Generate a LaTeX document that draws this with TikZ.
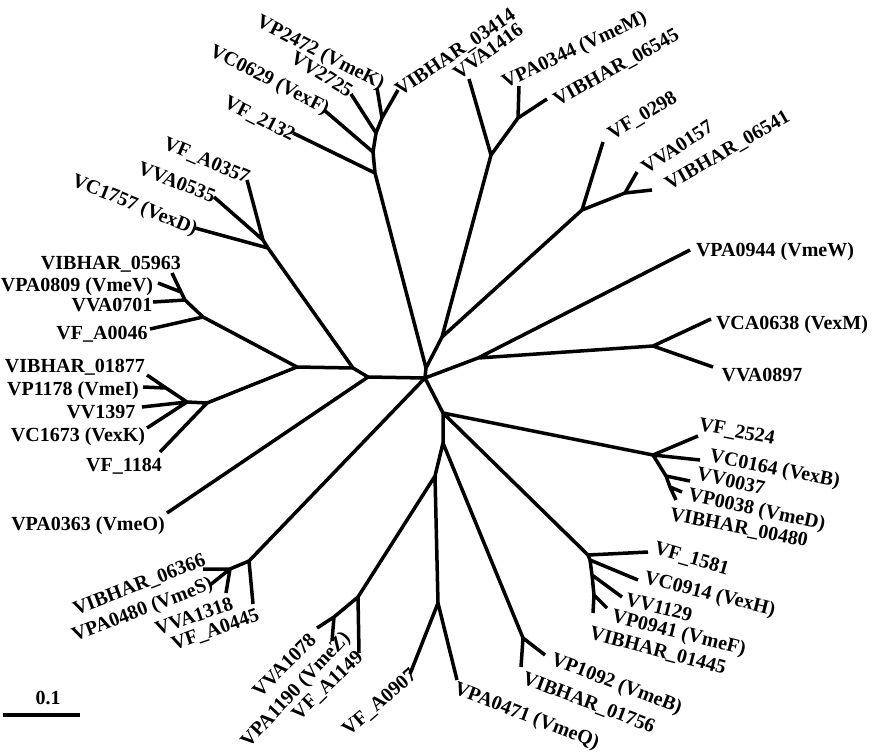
\documentclass[tikz,border=0pt]{standalone}
\usepackage{fontspec}
\setmainfont{Liberation Serif}
\begin{document}
\begin{tikzpicture}[x=1pt,y=-1pt,
  br/.style={line width=3.5pt,line join=round},
  lab/.style={font=\fontsize{20}{20}\selectfont\bfseries,inner sep=0pt,text height=13.2pt,text depth=0pt,anchor=center}]
\useasboundingbox (0,0) rectangle (872,753);
% internal nodes
\coordinate (O) at (425,378);
\coordinate (A) at (368,377);
\coordinate (B) at (353,368);
\coordinate (C) at (297,367);
\coordinate (D) at (268,248);
\coordinate (D1) at (263,240);
\coordinate (E) at (203,317);
\coordinate (E2) at (185,300);
\coordinate (E3) at (181,292);
\coordinate (F) at (207,403);
\coordinate (F2) at (187,402);
\coordinate (F3) at (166,388);
\coordinate (M) at (249,561);
\coordinate (M2) at (230,569);
\coordinate (N1) at (426,368);
\coordinate (G0) at (375,173);
\coordinate (G1) at (373,152);
\coordinate (G2) at (376,133);
\coordinate (G3) at (382,118);
\coordinate (J) at (442,337);
\coordinate (H) at (491,155);
\coordinate (H2) at (518,118);
\coordinate (K) at (582,210);
\coordinate (K2) at (625,193);
\coordinate (V) at (478,358);
\coordinate (W) at (653,346);
\coordinate (P) at (443,413);
\coordinate (X1) at (653,455);
\coordinate (X1a) at (666,476);
\coordinate (X1b) at (670,487);
\coordinate (X2) at (588,555);
\coordinate (X2a) at (590,560);
\coordinate (X2b) at (592,575);
\coordinate (X2c) at (594,595);
\coordinate (Q) at (443,443);
\coordinate (R) at (435,476);
\coordinate (S) at (358,597);
\coordinate (S2) at (334,617);
\coordinate (T) at (438,603);
\coordinate (U) at (523,638);
% leaves
\coordinate (l1) at (167,513);  % VPA0363
\coordinate (l2) at (195,228);  % VC1757
\coordinate (l3) at (247,180);  % VF_A0357
\coordinate (l4) at (214,197);  % VVA0535
\coordinate (l5) at (150,329);  % VF_A0046
\coordinate (l6) at (153,302);  % VVA0701
\coordinate (l7) at (158,283);  % VPA0809
\coordinate (l8) at (172,273);  % VIBHAR_05963
\coordinate (l9) at (160,452);  % VF_1184
\coordinate (l10) at (142,407); % VV1397
\coordinate (l11) at (147,428); % VC1673
\coordinate (l12) at (147,375); % VIBHAR_01877
\coordinate (l13) at (143,387); % VP1178
\coordinate (l14) at (253,604); % VF_A0445
\coordinate (l15) at (203,569); % VIBHAR_06366
\coordinate (l16) at (210,585); % VPA0480
\coordinate (l17) at (226,593); % VVA1318
\coordinate (l18) at (293,133); % VF_2132
\coordinate (l19) at (324,110); % VC0629
\coordinate (l20) at (351,94);  % VV2725
\coordinate (l21) at (377,88);  % VP2472
\coordinate (l22) at (398,90);  % VIBHAR_03414
\coordinate (l23) at (469,79);  % VVA1416
\coordinate (l24) at (519,86);  % VPA0344
\coordinate (l25) at (547,99);  % VIBHAR_06545
\coordinate (l26) at (603,142); % VF_0298
\coordinate (l27) at (637,172); % VVA0157
\coordinate (l28) at (652,190); % VIBHAR_06541
\coordinate (l29) at (690,250); % VPA0944
\coordinate (l30) at (711,319); % VCA0638
\coordinate (l31) at (713,367); % VVA0897
\coordinate (l32) at (698,436); % VF_2524
\coordinate (l33) at (700,460); % VC0164
\coordinate (l34) at (690,481); % VV0037
\coordinate (l35) at (682,492); % VP0038
\coordinate (l36) at (676,500); % VIBHAR_00480
\coordinate (l37) at (648,552); % VF_1581
\coordinate (l38) at (638,580); % VC0914
\coordinate (l39) at (622,597); % VV1129
\coordinate (l40) at (607,608); % VP0941
\coordinate (l41) at (593,613); % VIBHAR_01445
\coordinate (l42) at (359,653); % VF_A1149
\coordinate (l43) at (317,628); % VVA1078
\coordinate (l44) at (332,641); % VPA1190
\coordinate (l45) at (410,674); % VF_A0907
\coordinate (l46) at (457,680); % VPA0471
\coordinate (l47) at (521,667); % VIBHAR_01756
\coordinate (l48) at (545,655); % VP1092
% branches
\draw[br] (O)--(A) (O)--(N1) (O)--(V) (O)--(P) (O)--(M);
\draw[br] (A)--(B) (A)--(l1);
\draw[br] (B)--(C) (B)--(D);
\draw[br] (D)--(D1) (D)--(l2) (D1)--(l3) (D1)--(l4);
\draw[br] (C)--(E) (C)--(F);
\draw[br] (E)--(E2) (E)--(l5) (E2)--(E3) (E2)--(l6) (E3)--(l7) (E3)--(l8);
\draw[br] (F)--(F2) (F)--(l9) (F2)--(F3) (F2)--(l10) (F2)--(l11) (F3)--(l12) (F3)--(l13);
\draw[br] (M)--(M2) (M)--(l14) (M2)--(l15) (M2)--(l16) (M2)--(l17);
\draw[br] (N1)--(G0) (N1)--(J);
\draw[br] (G0)--(l18) (G0)--(G1) (G1)--(l19) (G1)--(G2) (G2)--(l20) (G2)--(G3) (G3)--(l21) (G3)--(l22);
\draw[br] (J)--(H) (J)--(K) (H)--(l23) (H)--(H2) (H2)--(l24) (H2)--(l25);
\draw[br] (K)--(l26) (K)--(K2) (K2)--(l27) (K2)--(l28);
\draw[br] (V)--(l29) (V)--(W) (W)--(l30) (W)--(l31);
\draw[br] (P)--(X1) (P)--(X2) (P)--(Q);
\draw[br] (X1)--(l32) (X1)--(l33) (X1)--(X1a) (X1a)--(l34) (X1a)--(X1b) (X1b)--(l35) (X1b)--(l36);
\draw[br] (X2)--(l37) (X2)--(X2a) (X2a)--(l38) (X2a)--(X2b) (X2b)--(l39) (X2b)--(X2c) (X2c)--(l40) (X2c)--(l41);
\draw[br] (Q)--(R) (Q)--(U) (R)--(S) (R)--(T);
\draw[br] (S)--(l42) (S)--(S2) (S2)--(l43) (S2)--(l44);
\draw[br] (T)--(l45) (T)--(l46) (U)--(l47) (U)--(l48);
% labels
\node[lab,rotate=-27] (t21) at (321,52) {VP2472 (VmeK)};
\node[lab,rotate=-32] (t20) at (322,74) {VV2725};
\node[lab,rotate=-27] (t19) at (270,79) {VC0629 (VexF)};
\node[lab,rotate=-27] (t18) at (260,118) {VF\_2132};
\node[lab,rotate=34] (t22) at (455,52) {VIBHAR\_03414};
\node[lab,rotate=36] (t23) at (488,51) {VVA1416};
\node[lab,rotate=25] (t24) at (574,49) {VPA0344 (VmeM)};
\node[lab,rotate=29] (t25) at (616,67) {VIBHAR\_06545};
\node[lab,rotate=31] (t26) at (642,115) {VF\_0298};
\node[lab,rotate=33] (t27) at (677,147) {VVA0157};
\node[lab,rotate=30] (t28) at (727,150) {VIBHAR\_06541};
\node[lab] (t29) at (775,250) {VPA0944 (VmeW)};
\node[lab] (t30) at (792,323) {VCA0638 (VexM)};
\node[lab] (t31) at (762,375) {VVA0897};
\node[lab,rotate=-11] (t32) at (737,431) {VF\_2524};
\node[lab,rotate=-11] (t33) at (775,468) {VC0164 (VexB)};
\node[lab,rotate=-13] (t34) at (731,481) {VV0037};
\node[lab,rotate=-12] (t35) at (757,509) {VP0038 (VmeD)};
\node[lab,rotate=-11] (t36) at (739,527) {VIBHAR\_00480};
\node[lab,rotate=-16] (t37) at (692,558) {VF\_1581};
\node[lab,rotate=-14] (t38) at (710,593) {VC0914 (VexH)};
\node[lab,rotate=-14] (t39) at (659,607) {VV1129};
\node[lab,rotate=-14] (t40) at (679,632) {VP0941 (VmeF)};
\node[lab,rotate=-15] (t41) at (658,650) {VIBHAR\_01445};
\node[lab,rotate=-21] (t48) at (617,683) {VP1092 (VmeB)};
\node[lab,rotate=-21] (t47) at (589,702) {VIBHAR\_01756};
\node[lab,rotate=-21] (t46) at (527,715) {VPA0471 (VmeQ)};
\node[lab,rotate=41] (t45) at (379,702) {VF\_A0907};
\node[lab,rotate=44] (t42) at (327,685) {VF\_A1149};
\node[lab,rotate=47] (t44) at (295,689) {VPA1190 (VmeZ)};
\node[lab,rotate=45] (t43) at (284,665) {VVA1078};
\node[lab,rotate=19] (t14) at (215,629) {VF\_A0445};
\node[lab,rotate=19] (t17) at (194,616) {VVA1318};
\node[lab,rotate=21] (t16) at (142,609) {VPA0480 (VmeS)};
\node[lab,rotate=21] (t15) at (139,584) {VIBHAR\_06366};
\node[lab] (t1) at (88,524) {VPA0363 (VmeO)};
\node[lab] (t9) at (124,465) {VF\_1184};
\node[lab] (t11) at (78,435) {VC1673 (VexK)};
\node[lab] (t10) at (101,412) {VV1397};
\node[lab] (t13) at (73,389) {VP1178 (VmeI)};
\node[lab] (t12) at (75,366) {VIBHAR\_01877};
\node[lab] (t5) at (102,333) {VF\_A0046};
\node[lab] (t6) at (112,305) {VVA0701};
\node[lab] (t7) at (77,285) {VPA0809 (VmeV)};
\node[lab] (t8) at (111,263) {VIBHAR\_05963};
\node[lab,rotate=-22] (t2) at (135,204) {VC1757 (VexD)};
\node[lab,rotate=-21] (t4) at (177,182) {VVA0535};
\node[lab,rotate=-23] (t3) at (207,160) {VF\_A0357};
% scale bar
\coordinate (sb1) at (3,715);
\coordinate (sb2) at (80,715);
\draw[line width=3.5pt] (sb1)--(sb2);
\node[lab] (sbl) at (48,698) {0.1};
\end{tikzpicture}
\end{document}
